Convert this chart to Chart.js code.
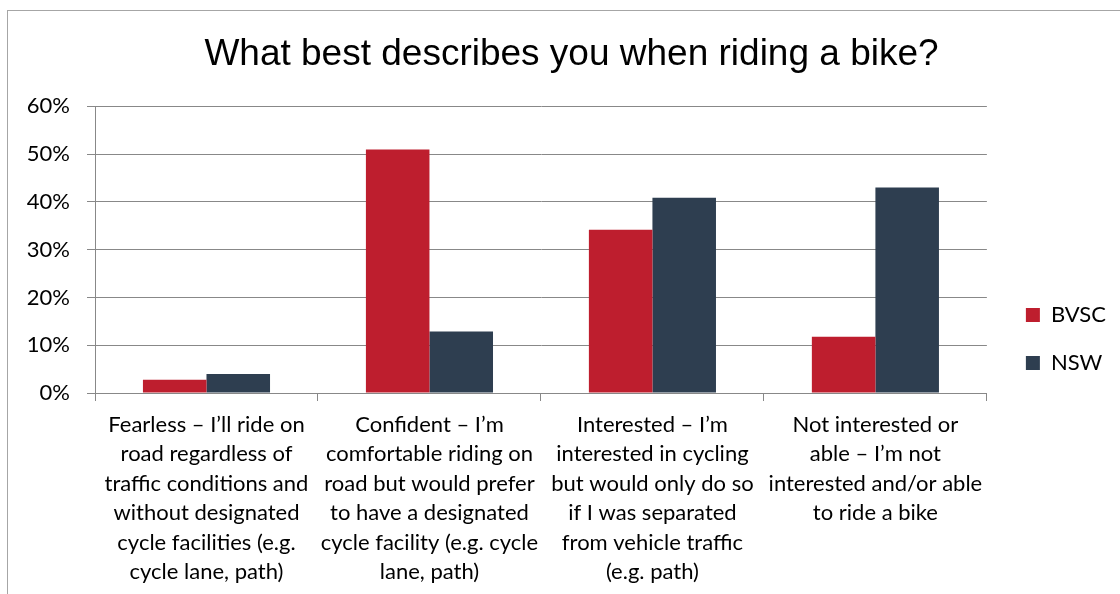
<!DOCTYPE html>
<html>
<head>
<meta charset="utf-8">
<script src="https://cdn.jsdelivr.net/npm/chart.js@4/dist/chart.umd.min.js"></script>
<style>
  body { margin: 0; background: #fff; }
  #frame { position: absolute; left: 7px; top: 10px; width: 1130px; height: 600px; border: 1px solid #a6a6a6; }
  #wrap { position: absolute; left: 0; top: 0; width: 1120px; height: 594px; }
</style>
</head>
<body>
<div id="frame"></div>
<div id="wrap"><canvas id="bikeChart"></canvas></div>
<script>
// Chart data
const categories = [
    ["Fearless – I’ll ride on", "road regardless of", "traffic conditions and", "without designated", "cycle facilities (e.g.", "cycle lane, path)"],
    ["Confident – I’m", "comfortable riding on", "road but would prefer", "to have a designated", "cycle facility (e.g. cycle", "lane, path)"],
    ["Interested – I’m", "interested in cycling", "but would only do so", "if I was separated", "from vehicle traffic", "(e.g. path)"],
    ["Not interested or", "able – I’m not", "interested and/or able", "to ride a bike"]
];
const seriesNames = ["BVSC", "NSW"];
const bvscValues = [2.8, 51.0, 34.2, 11.8];
const nswValues = [4.0, 12.9, 40.9, 43.0];
const yTicks = [0, 10, 20, 30, 40, 50, 60];

const labelFont = { family: "Lato", size: 22 };
const axisGrey = "#888888";

// nudge the legend down a little so it sits where the original has it
const legendNudge = {
    id: "legendNudge",
    afterLayout(chart) {
        if (chart.legend) {
            chart.legend.top += 7;
            chart.legend.bottom += 7;
        }
    },
};

new Chart(document.getElementById("bikeChart"), {
    type: "bar",
    data: {
        labels: categories,
        datasets: [
            { label: seriesNames[0], data: bvscValues, backgroundColor: "#BE1E2E" },
            { label: seriesNames[1], data: nswValues, backgroundColor: "#2E3E50" },
        ],
    },
    options: {
        responsive: true,
        maintainAspectRatio: false,
        animation: false,
        categoryPercentage: 0.57,
        barPercentage: 1,
        layout: { padding: { left: 27, right: 4, top: 0, bottom: 7 } },
        plugins: {
            title: {
                display: true,
                text: "What best describes you when riding a bike?",
                color: "#000",
                font: { family: "Liberation Sans", size: 37, weight: "normal" },
                padding: { top: 33, bottom: 29 },
            },
            legend: {
                position: "right",
                align: "end",
                fullSize: false,
                labels: {
                    color: "#000",
                    font: labelFont,
                    boxWidth: 14,
                    boxHeight: 14,
                    padding: 26,
                },
            },
            tooltip: { enabled: false },
        },
        scales: {
            x: {
                grid: { offset: true, drawOnChartArea: false, drawTicks: true, tickLength: 8, color: axisGrey },
                border: { color: axisGrey },
                ticks: { color: "#000", font: { ...labelFont, lineHeight: 1.34 }, maxRotation: 0, autoSkip: false, padding: 9 },
                afterFit: (axis) => { axis.height = 194; },
            },
            y: {
                min: yTicks[0],
                max: yTicks[yTicks.length - 1],
                afterBuildTicks: (axis) => { axis.ticks = yTicks.map((v) => ({ value: v })); },
                grid: { color: axisGrey, tickLength: 8 },
                border: { color: axisGrey },
                ticks: { color: "#000", font: labelFont, padding: 17, callback: (v) => v + "%" },
                afterFit: (axis) => { axis.width = 68; },
            },
            // empty spacer between plot and legend
            gap: {
                position: "right",
                grid: { display: false },
                border: { display: false },
                ticks: { display: false },
                afterFit: (axis) => { axis.width = 13; },
            },
        },
    },
    plugins: [legendNudge],
});
</script>
</body>
</html>
